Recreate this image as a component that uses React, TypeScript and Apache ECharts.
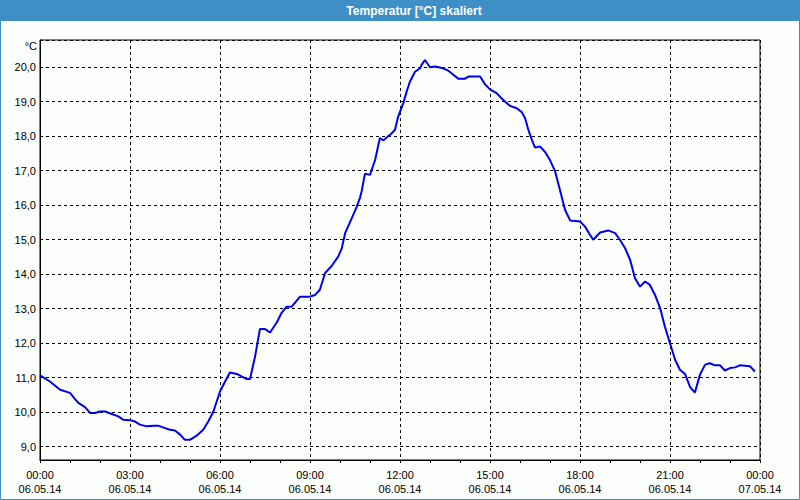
import React, { useEffect, useRef } from "react";
import * as echarts from "echarts";

const TITLE = "Temperatur [°C] skaliert";
const UNIT = "°C";

// time of day in hours (06.05.14 00:00 = 0)
const hours = [
  0, 0.33, 0.67, 1.0, 1.17, 1.28, 1.5, 1.67, 1.83, 2.0, 2.17, 2.39, 2.61, 2.78, 3.0, 3.17, 3.33,
  3.56, 3.78, 3.94, 4.17, 4.33, 4.5, 4.67, 4.83, 5.0, 5.22, 5.44, 5.61, 5.78, 6.0, 6.17, 6.33,
  6.56, 6.89, 7.0, 7.17, 7.33, 7.5, 7.67, 7.89, 8.06, 8.22, 8.39, 8.67, 9.0, 9.17, 9.33, 9.5,
  9.72, 9.94, 10.06, 10.17, 10.39, 10.56, 10.67, 10.72, 10.83, 11.0, 11.17, 11.33, 11.45, 11.6,
  11.67, 11.83, 11.94, 12.11, 12.22, 12.33, 12.5, 12.67, 12.72, 12.83, 13.0, 13.17, 13.44,
  13.61, 13.78, 13.94, 14.17, 14.28, 14.67, 14.83, 15.0, 15.22, 15.44, 15.67, 15.89, 16.06,
  16.17, 16.28, 16.39, 16.5, 16.67, 16.83, 17.0, 17.17, 17.33, 17.5, 17.67, 18.0, 18.17, 18.3,
  18.44, 18.67, 18.94, 19.17, 19.33, 19.5, 19.67, 19.83, 20.0, 20.17, 20.33, 20.5, 20.67,
  20.83, 21.0, 21.17, 21.33, 21.5, 21.67, 21.83, 22.0, 22.17, 22.33, 22.5, 22.67, 22.83, 23.0,
  23.17, 23.33, 23.5, 23.67, 23.83,
];

// temperature in °C
const temps = [
  11.07, 10.89, 10.65, 10.56, 10.38, 10.27, 10.15, 9.98, 9.98, 10.02, 10.02, 9.95, 9.88, 9.78,
  9.77, 9.73, 9.64, 9.59, 9.61, 9.61, 9.54, 9.49, 9.47, 9.35, 9.2, 9.2, 9.32, 9.49, 9.73,
  10.02, 10.6, 10.89, 11.15, 11.11, 10.96, 10.96, 11.62, 12.41, 12.41, 12.31, 12.6, 12.89,
  13.06, 13.06, 13.35, 13.35, 13.4, 13.55, 14.03, 14.24, 14.51, 14.75, 15.19, 15.62, 15.96,
  16.23, 16.4, 16.91, 16.88, 17.31, 17.95, 17.88, 18.0, 18.04, 18.18, 18.57, 18.96, 19.29,
  19.58, 19.87, 19.97, 20.07, 20.21, 20.0, 20.02, 19.97, 19.9, 19.78, 19.67, 19.67, 19.73,
  19.73, 19.51, 19.36, 19.25, 19.05, 18.88, 18.81, 18.7, 18.52, 18.18, 17.91, 17.67, 17.7,
  17.55, 17.31, 16.98, 16.45, 15.87, 15.56, 15.53, 15.38, 15.19, 15.0, 15.21, 15.27, 15.19,
  15.0, 14.76, 14.42, 13.89, 13.64, 13.79, 13.69, 13.4, 13.02, 12.48, 12.0, 11.52, 11.23,
  11.11, 10.73, 10.57, 11.09, 11.38, 11.42, 11.36, 11.36, 11.21, 11.28, 11.3, 11.36, 11.35,
  11.33, 11.18,
];

const X_MIN = 0;
const X_MAX = 24;
const X_STEP = 3;
const Y_MIN = 8.615;
const Y_MAX = 20.79;
const DAY1 = "06.05.14";
const DAY2 = "07.05.14";

const FONT = "'Liberation Sans', Arial, sans-serif";

export default function App() {
  const ref = useRef<HTMLDivElement>(null);

  useEffect(() => {
    document.body.style.margin = "0";
    if (!ref.current) return;
    const chart = echarts.init(ref.current, null, { renderer: "svg" });
    const data = hours.map((h, i) => [h, temps[i]]);
    const pad = (n: number) => (n < 10 ? "0" + n : "" + n);

    chart.setOption({
      animation: false,
      backgroundColor: "#fcfefc",
      textStyle: { fontFamily: FONT },
      grid: {
        left: 40,
        right: 40,
        top: 40,
        bottom: 40,
        show: true,
        borderColor: "#000",
        borderWidth: 1,
        backgroundColor: "transparent",
      },
      graphic: [
        {
          type: "rect",
          shape: { x: 0, y: 0, width: 800, height: 21 },
          style: { fill: "#3d8fc6" },
          silent: true,
        },
        {
          type: "rect",
          shape: { x: 0.5, y: 0.5, width: 799, height: 499 },
          style: { fill: "none", stroke: "#3d8fc6", lineWidth: 1 },
          silent: true,
        },
        {
          type: "text",
          x: 414,
          y: 11,
          style: {
            text: TITLE,
            fill: "#ffffff",
            font: "bold 12px " + FONT,
            textAlign: "center",
            textVerticalAlign: "middle",
          },
          silent: true,
        },
        {
          type: "text",
          x: 37,
          y: 46,
          style: {
            text: UNIT,
            fill: "#000",
            font: "11px " + FONT,
            textAlign: "right",
            textVerticalAlign: "middle",
          },
          silent: true,
        },
      ],
      xAxis: {
        type: "value",
        min: X_MIN,
        max: X_MAX,
        interval: X_STEP,
        axisLine: { show: true, lineStyle: { color: "#000", width: 1 } },
        axisTick: { show: true, inside: false, length: 3, lineStyle: { color: "#000" } },
        minorTick: { show: true, splitNumber: 3, length: 3, lineStyle: { color: "#000" } },
        splitLine: { show: true, lineStyle: { color: "#000", type: [3, 3], width: 1 } },
        axisLabel: {
          color: "#000",
          fontSize: 11,
          lineHeight: 14,
          margin: 8,
          fontFamily: FONT,
          formatter: (v: number) => {
            const h = Math.round(v);
            if (h >= 24) return pad(h - 24) + ":00\n" + DAY2;
            return pad(h) + ":00\n" + DAY1;
          },
        },
      },
      yAxis: {
        type: "value",
        min: Y_MIN,
        max: Y_MAX,
        splitNumber: 12,
        axisLine: { show: true, lineStyle: { color: "#000", width: 1 } },
        axisTick: { show: false },
        splitLine: { show: true, lineStyle: { color: "#000", type: [3, 3], width: 1 } },
        axisLabel: {
          color: "#000",
          fontSize: 11,
          margin: 4,
          fontFamily: FONT,
          showMinLabel: false,
          showMaxLabel: false,
          formatter: (v: number) => v.toFixed(1).replace(".", ","),
        },
      },
      series: [
        {
          type: "line",
          data,
          showSymbol: false,
          symbol: "none",
          lineStyle: { color: "#0000f0", width: 2 },
          itemStyle: { color: "#0000f0" },
        },
      ],
    });

    return () => chart.dispose();
  }, []);

  return <div ref={ref} style={{ width: 800, height: 500 }} />;
}
